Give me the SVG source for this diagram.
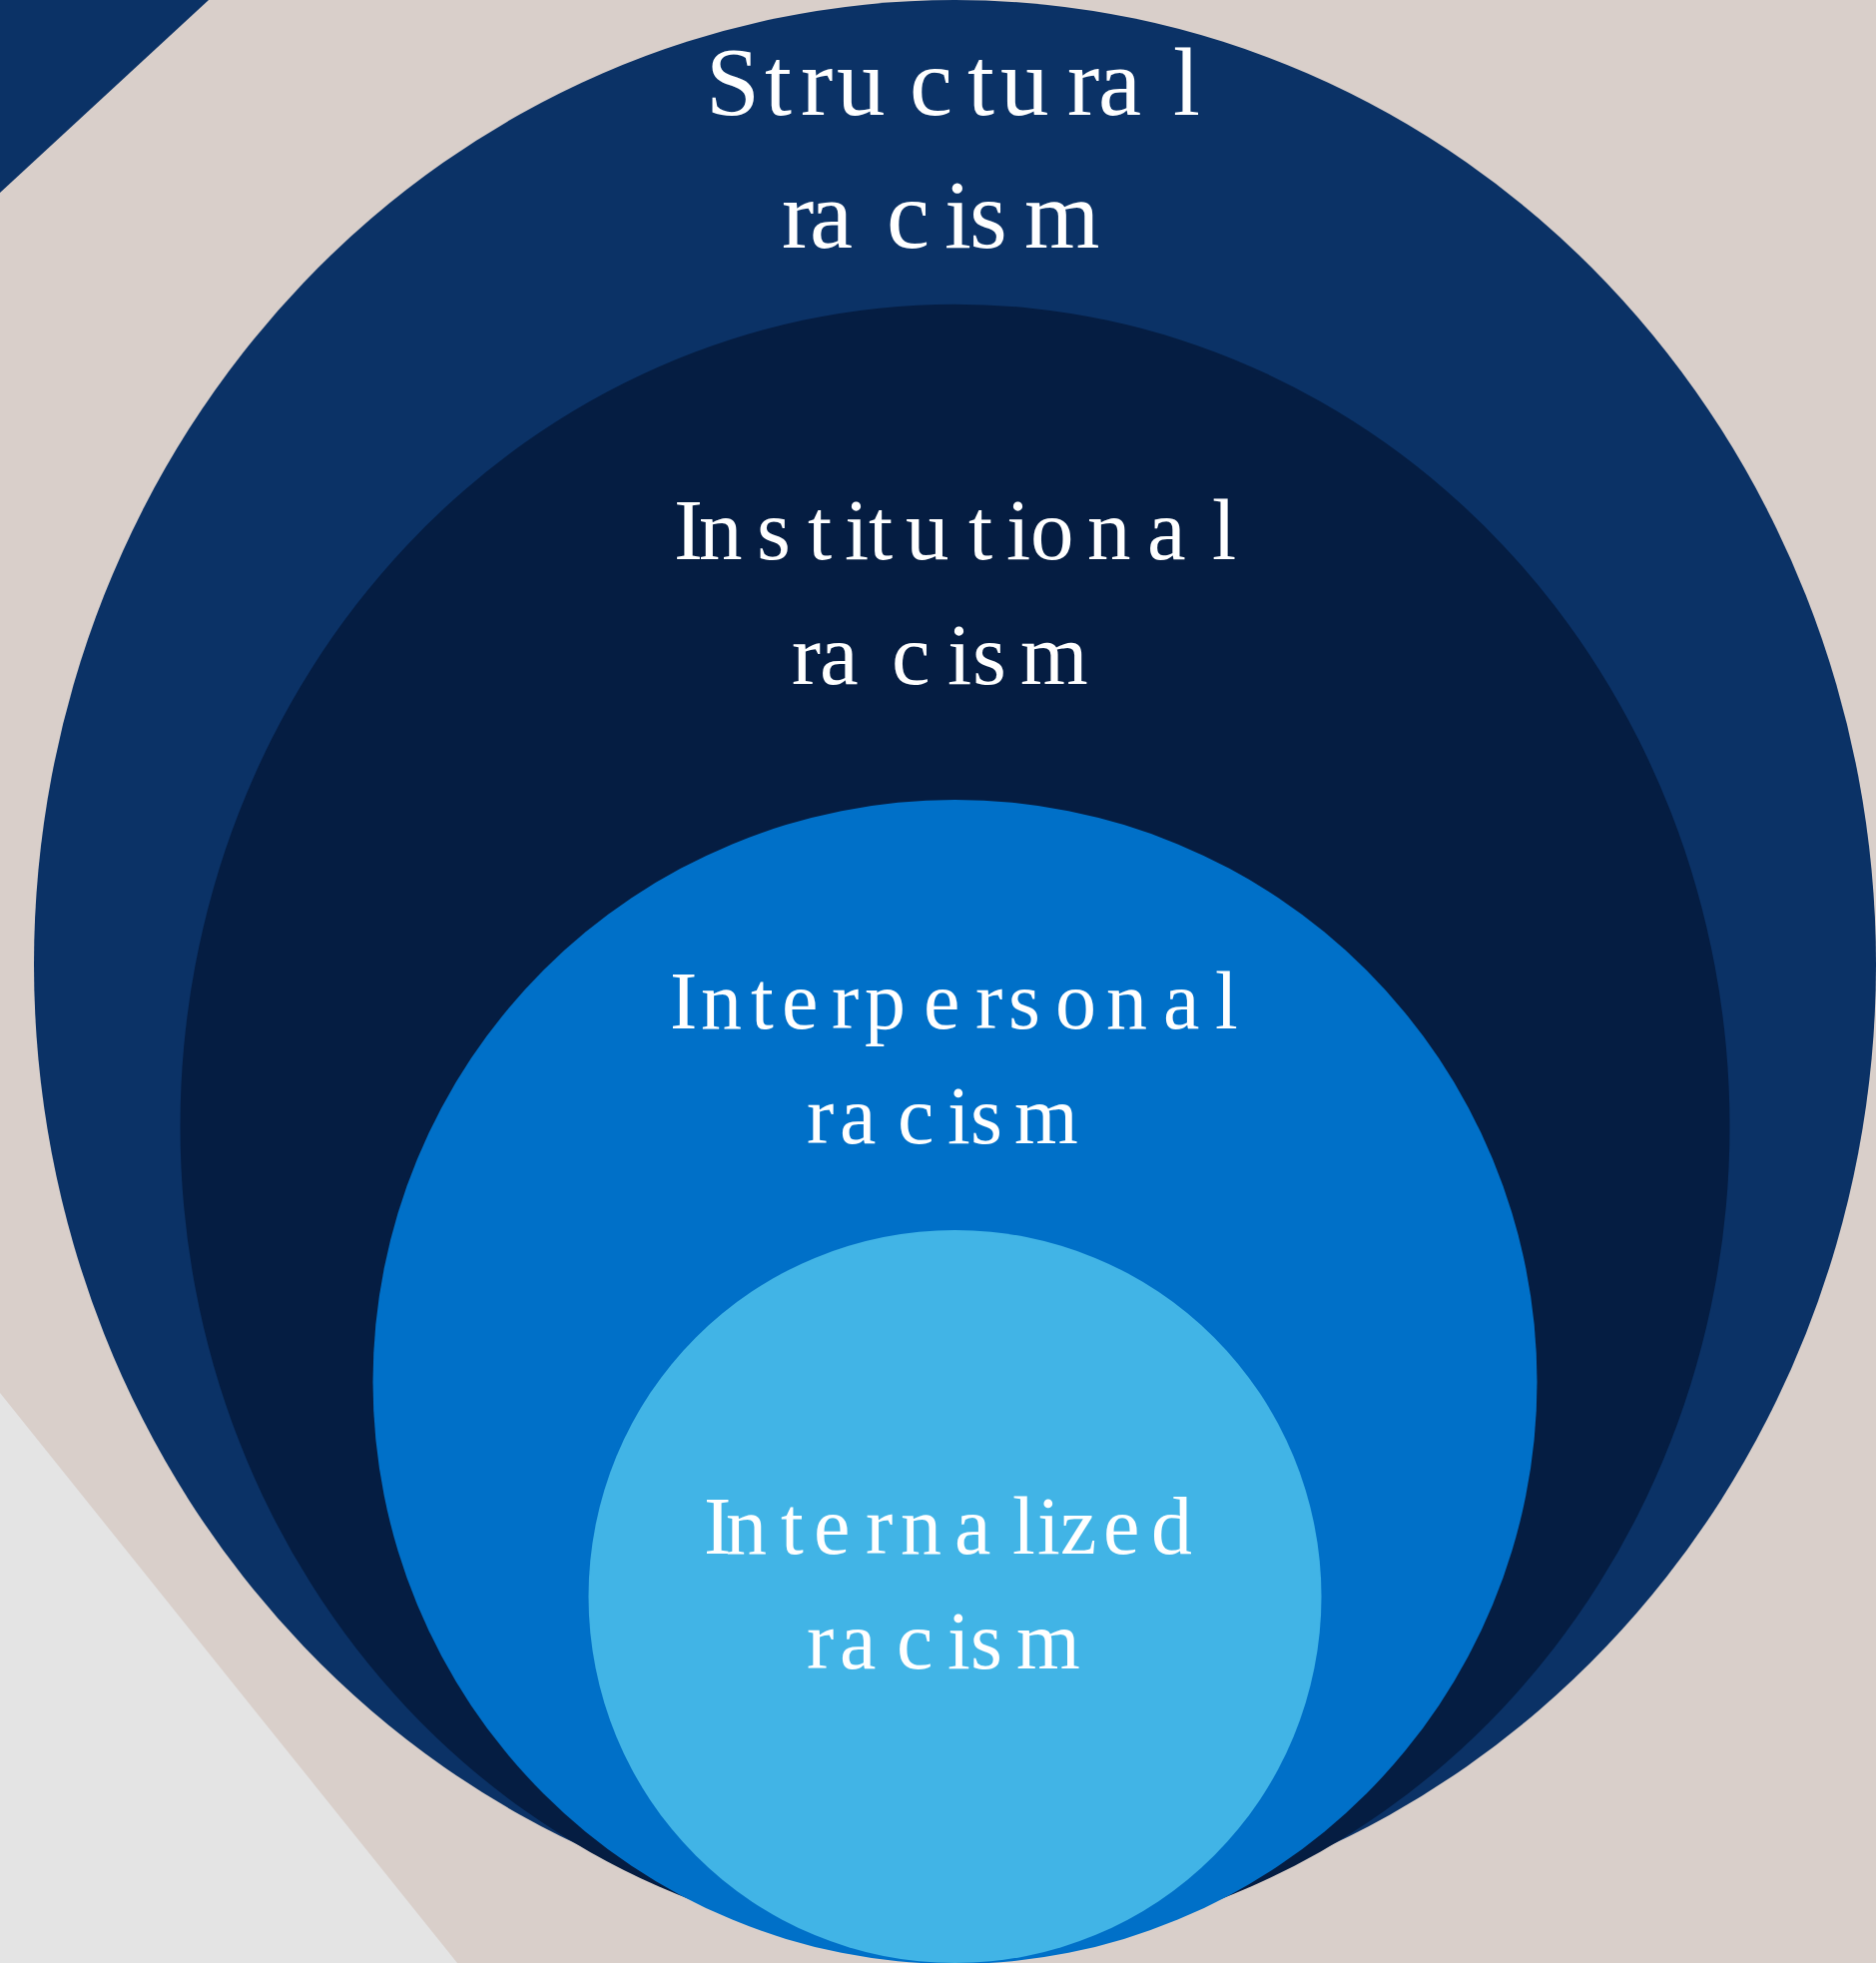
<svg xmlns="http://www.w3.org/2000/svg" width="1879" height="1966" viewBox="0 0 1879 1966">
<style>
.lbl{font-family:"Liberation Serif","Times New Roman",serif;fill:#ffffff;}
</style>
<rect x="0" y="0" width="1879" height="1966" fill="#d9cfca"/>
<polygon points="0,1395 458,1966 0,1966" fill="#e4e4e4"/>
<polygon points="0,0 209,0 0,193" fill="#0b3266"/>
<g id="structural">
<ellipse cx="956.5" cy="966" rx="922.5" ry="966" fill="#0b3266"/>
<text class="lbl" font-size="97"><tspan x="707 766 802 838 911 969 1002 1069 1100 1175" y="115">Structural</tspan><tspan x="783 811 888 946 971 1026" y="248">racism</tspan></text>
</g>
<g id="institutional">
<ellipse cx="956.5" cy="1128.3" rx="776" ry="823.6" fill="#051d42"/>
<text class="lbl" font-size="87"><tspan x="675 700 758 809 846 870 907 970 1008 1032 1089 1149 1214" y="560">Institutional</tspan><tspan x="793 821 893 949 974 1022" y="685">racism</tspan></text>
</g>
<g id="interpersonal">
<circle cx="956.5" cy="1384" r="583" fill="#0070c8"/>
<text class="lbl" font-size="82"><tspan x="671 702 752 783 833 866 925 977 1010 1057 1108 1165 1217" y="1030">Interpersonal</tspan><tspan x="808 841 899 949 972 1016" y="1145">racism</tspan></text>
</g>
<g id="internalized">
<circle cx="956.5" cy="1599" r="367" fill="#41b4e6"/>
<text class="lbl" font-size="82"><tspan x="705 727 782 815 867 902 956 1014 1039 1062 1105 1153" y="1556">Internalized</tspan><tspan x="808 841 898 949 972 1018" y="1671">racism</tspan></text>
</g>
<g id="connectors"></g>
</svg>
